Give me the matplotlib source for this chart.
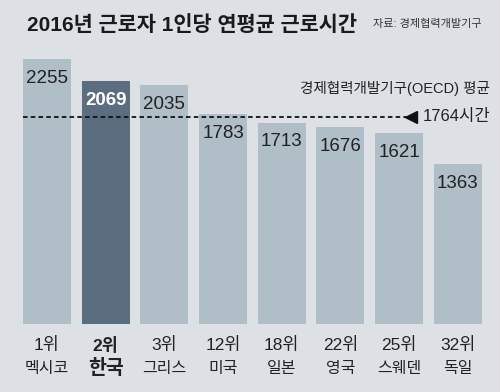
import matplotlib.pyplot as plt

plt.rcParams['font.family'] = ['Liberation Sans', 'Noto Sans CJK KR', 'DejaVu Sans']

ranks = ['1위', '2위', '3위', '12위', '18위', '22위', '25위', '32위']
countries = ['멕시코', '한국', '그리스', '미국', '일본', '영국', '스웨덴', '독일']
hours = [2255, 2069, 2035, 1783, 1713, 1676, 1621, 1363]
oecd_avg = 1764
highlight = '한국'

bg = '#dde1e5'
light = '#afbec7'
dark = '#5b6e7f'

fig = plt.figure(figsize=(5, 3.92), dpi=100, facecolor=bg)
ax = fig.add_axes([0, 0, 1, 1])
ax.set_facecolor(bg)
ax.set_xlim(-0.80, 7.72)
ax.set_ylim(-578, 2755)
ax.axis('off')

x = range(len(hours))
colors = [dark if c == highlight else light for c in countries]
ax.bar(x, hours, width=0.82, color=colors, zorder=1)

for i, (v, r, c) in enumerate(zip(hours, ranks, countries)):
    is_hi = c == highlight
    ax.text(i, v - 165, str(v), ha='center', va='center', fontsize=13.5,
            color='white' if is_hi else '#222222', weight='bold' if is_hi else 'normal', zorder=3)
    ax.text(i, -179, r, ha='center', va='center', fontsize=12.5,
            color='#222222', weight='bold' if is_hi else 'normal')
    ax.text(i, -374, c, ha='center', va='center', fontsize=14 if is_hi else 11.5,
            color='#222222', weight='bold' if is_hi else 'normal')

# OECD average line
ax.plot([-0.40, 6.15], [oecd_avg, oecd_avg], color='#111111', lw=1.3,
        ls=(0, (2.5, 1.8)), zorder=2)
ax.plot([6.2], [oecd_avg], marker='<', color='#111111', markersize=8, zorder=2)
ax.text(7.55, oecd_avg, '1764시간', ha='right', va='center', fontsize=12, color='#222222')
ax.text(7.55, 2007, '경제협력개발기구(OECD) 평균', ha='right', va='center', fontsize=10.5,
        color='#222222')

fig.text(27 / 500, 1 - 25 / 392, '2016년 근로자 1인당 연평균 근로시간', ha='left', va='center',
         fontsize=15, weight='bold', color='#1a1a1a')
fig.text(482 / 500, 1 - 24 / 392, '자료: 경제협력개발기구', ha='right', va='center',
         fontsize=8, color='#333333')

fig.savefig('out.png', dpi=100, facecolor=bg)
